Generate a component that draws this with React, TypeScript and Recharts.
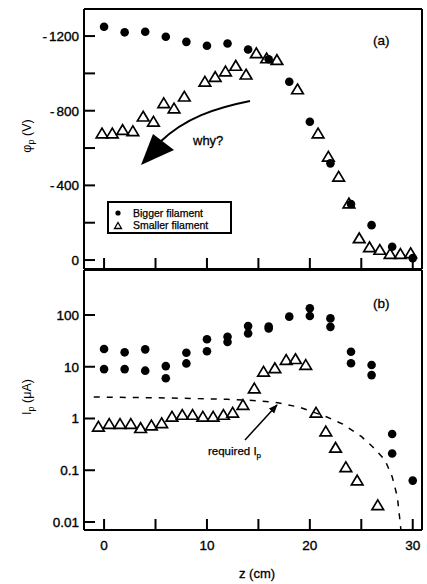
import React from 'react';
import { ScatterChart, Scatter, XAxis, YAxis } from 'recharts';

// ---------- data ----------
const zTicks = [0, 5, 10, 15, 20, 25, 30];
const zLabelValues = [0, 10, 20, 30];
const phiTicks = [-1200, -1000, -800, -600, -400, -200, 0];
const phiLabelValues = [-1200, -800, -400, 0];
const ipTicks = [0.01, 0.1, 1, 10, 100];
const ipTickLabels = ['0.01', '0.1', '1', '10', '100'];

// (a) plasma potential, bigger filament
const bigPhiZ = [0, 2, 4, 6, 8, 10, 12, 14, 16, 18, 20, 22, 24, 26, 28, 30];
const bigPhiV = [-1250, -1220, -1223, -1196, -1169, -1148, -1160, -1128, -1076, -955, -741, -518, -300, -187, -71, -10];

// (a) plasma potential, smaller filament
const smallPhiZ = [-0.2, 0.8, 1.8, 2.8, 3.8, 4.8, 5.8, 6.8, 7.8, 9.8, 10.8, 11.8, 12.8, 13.8, 14.8, 15.8, 16.8, 18.8, 20.8, 21.8, 22.8, 23.8, 24.8, 25.8, 26.8, 27.8, 28.8, 29.8];
const smallPhiV = [-678, -678, -696, -690, -768, -741, -840, -812, -875, -955, -980, -1010, -1040, -993, -1107, -1080, -1071, -914, -678, -553, -446, -303, -116, -68, -54, -32, -32, -36];

// (b) current, bigger filament
const bigIpZ = [0, 0, 2, 2, 4, 4, 6, 6, 8, 8, 10, 10, 12, 12, 14, 14, 16, 16, 18, 20, 20, 22, 22, 24, 24, 26, 26, 28, 28, 30];
const bigIpA = [22, 9, 19, 9, 21.7, 8.4, 10.3, 6, 18.7, 11.6, 34, 20, 38, 30, 61, 44, 60, 55, 93, 135, 96, 86, 59, 19.5, 11.7, 10.8, 6.9, 0.5, 0.21, 0.063];

// (b) current, smaller filament
const smallIpZ = [-0.55, 0.5, 1.55, 2.6, 3.55, 4.6, 5.6, 6.6, 7.6, 8.6, 9.6, 10.6, 11.6, 12.5, 13.5, 14.6, 15.5, 16.6, 17.7, 18.6, 19.6, 20.6, 21.55, 22.5, 23.5, 24.6, 26.6];
const smallIpA = [0.69, 0.78, 0.78, 0.78, 0.65, 0.73, 0.81, 1.08, 1.17, 1.17, 1.08, 1.08, 1.17, 1.29, 1.82, 3.8, 8.0, 9.3, 13.5, 14, 10.8, 1.29, 0.56, 0.27, 0.114, 0.063, 0.021];

// (b) required Ip (dashed curve)
const reqZ = [-1, 6, 12, 15, 17, 19, 21.6, 23.2, 25, 26.1, 27.3, 28, 28.5, 28.75, 28.85];
const reqA = [2.6, 2.5, 2.35, 2.2, 2.0, 1.65, 1.08, 0.78, 0.45, 0.285, 0.158, 0.075, 0.031, 0.011, 0.007];

const legendNames = ['Bigger filament', 'Smaller filament'];

const zip = (xs: number[], ys: number[]) => xs.map((x, i) => ({ x, y: ys[i] }));
const bigPhi = zip(bigPhiZ, bigPhiV);
const smallPhi = zip(smallPhiZ, smallPhiV);
const bigIp = zip(bigIpZ, bigIpA);
const smallIp = zip(smallIpZ, smallIpA);
const reqIp = zip(reqZ, reqA);

// ---------- styling ----------
const FONT = '"Liberation Sans", Arial, Helvetica, sans-serif';
const TL = 11;
const W = 427;
const H = 584;
const Z_DOMAIN: [number, number] = [-1.95, 30.9];
const PHI_DOMAIN: [number, number] = [-1345, 48];
const IP_DOMAIN: [number, number] = [0.007, 741];
const TICK_FS = 13.5;

const CircleShape = (p: any) => <circle cx={p.cx} cy={p.cy} r={4.3} fill="#000" />;
const TriShape = (p: any) => (
  <path
    d={`M${p.cx},${p.cy - 5.4} L${p.cx + 5.8},${p.cy + 4.3} L${p.cx - 5.8},${p.cy + 4.3} Z`}
    fill="none"
    stroke="#000"
    strokeWidth={1.7}
  />
);
const NoShape = () => <g />;

const textProps = { fontFamily: FONT, fontSize: TICK_FS, fill: '#000', stroke: '#000', strokeWidth: 0.35 };

const signedLabel = (x: number, y: number, v: number, anchor: 'end' | 'middle', text: string) => {
  if (v < 0) {
    return (
      <text x={x} y={y} textAnchor={anchor} {...textProps}>
        <tspan>-</tspan>
        <tspan dx={2}>{String(Math.abs(v))}</tspan>
      </text>
    );
  }
  return (
    <text x={x} y={y} textAnchor={anchor} {...textProps}>
      {text}
    </text>
  );
};

const AxisTick = (props: any) => {
  const { x, y, payload, side, labelFor } = props;
  const v = payload.value;
  let line;
  if (side === 'bottom') line = <line x1={x} y1={y} x2={x} y2={y - TL} stroke="#000" strokeWidth={2} />;
  else if (side === 'top') line = <line x1={x} y1={y} x2={x} y2={y + TL} stroke="#000" strokeWidth={2} />;
  else if (side === 'left') line = <line x1={x} y1={y} x2={x + TL} y2={y} stroke="#000" strokeWidth={2} />;
  else line = <line x1={x} y1={y} x2={x - TL} y2={y} stroke="#000" strokeWidth={2} />;
  const lab = labelFor ? labelFor(v) : null;
  let label = null;
  if (lab !== null && lab !== undefined) {
    if (side === 'bottom') label = signedLabel(x, y + 19.5, v, 'middle', lab);
    if (side === 'left') label = signedLabel(x - 5, y + 5, v, 'end', lab);
  }
  return (
    <g>
      {line}
      {label}
    </g>
  );
};

const phiLabelFn = (v: number) => (phiLabelValues.includes(v) ? String(v) : null);
const zLabelFn = (v: number) => (zLabelValues.includes(v) ? String(v) : null);
const ipLabelFn = (v: number) => {
  const i = ipTicks.findIndex((t) => Math.abs(t - v) / t < 1e-6);
  return i >= 0 ? ipTickLabels[i] : null;
};

const axisLine = { stroke: '#000', strokeWidth: 2 };

export default function App() {
  return (
    <div style={{ position: 'absolute', left: 0, top: 0, width: W, height: H, background: '#fff' }}>
      {/* (a) potential panel */}
      <div style={{ position: 'absolute', left: 0, top: 0 }}>
        <ScatterChart width={W} height={H} margin={{ top: 8, right: 4, bottom: H - 269 - 1, left: 0 }}>
          <XAxis xAxisId="b" type="number" dataKey="x" orientation="bottom" height={1} domain={Z_DOMAIN}
            ticks={zTicks} interval={0} tickSize={0} tickMargin={0} axisLine={axisLine}
            tick={<AxisTick side="bottom" />} />
          <XAxis xAxisId="t" type="number" dataKey="x" orientation="top" height={1} domain={Z_DOMAIN}
            ticks={zTicks} interval={0} tickSize={0} tickMargin={0} axisLine={axisLine}
            tick={<AxisTick side="top" />} />
          <YAxis yAxisId="l" type="number" dataKey="y" orientation="left" width={84} reversed domain={PHI_DOMAIN}
            ticks={phiTicks} interval={0} tickSize={0} tickMargin={0} axisLine={axisLine}
            tick={<AxisTick side="left" labelFor={phiLabelFn} />} />
          <YAxis yAxisId="r" type="number" dataKey="y" orientation="right" width={1} reversed domain={PHI_DOMAIN}
            ticks={phiTicks} interval={0} tickSize={0} tickMargin={0} axisLine={axisLine}
            tick={<AxisTick side="right" />} />
          <Scatter name={legendNames[1]} data={smallPhi} xAxisId="b" yAxisId="l" shape={TriShape} isAnimationActive={false} />
          <Scatter name={legendNames[0]} data={bigPhi} xAxisId="b" yAxisId="l" shape={CircleShape} isAnimationActive={false} />
        </ScatterChart>
      </div>

      {/* (b) current panel */}
      <div style={{ position: 'absolute', left: 0, top: 0 }}>
        <ScatterChart width={W} height={H} margin={{ top: 269, right: 4, bottom: H - 530 - 1, left: 0 }}>
          <XAxis xAxisId="b" type="number" dataKey="x" orientation="bottom" height={1} domain={Z_DOMAIN}
            ticks={zTicks} interval={0} tickSize={0} tickMargin={0} axisLine={axisLine}
            tick={<AxisTick side="bottom" labelFor={zLabelFn} />} />
          <XAxis xAxisId="t" type="number" dataKey="x" orientation="top" height={1} domain={Z_DOMAIN}
            ticks={zTicks} interval={0} tickSize={0} tickMargin={0} axisLine={axisLine}
            tick={<AxisTick side="top" />} />
          <YAxis yAxisId="l" type="number" dataKey="y" orientation="left" width={84} scale="log" domain={IP_DOMAIN}
            ticks={ipTicks} interval={0} tickSize={0} tickMargin={0} axisLine={axisLine}
            tick={<AxisTick side="left" labelFor={ipLabelFn} />} />
          <YAxis yAxisId="r" type="number" dataKey="y" orientation="right" width={1} scale="log" domain={IP_DOMAIN}
            ticks={ipTicks} interval={0} tickSize={0} tickMargin={0} axisLine={axisLine}
            tick={<AxisTick side="right" />} />
          <Scatter
            name="required Ip"
            data={reqIp}
            xAxisId="b"
            yAxisId="l"
            line={{ stroke: '#000', strokeWidth: 1.5, strokeDasharray: '6 7' }}
            lineType="joint"
            shape={NoShape}
            isAnimationActive={false}
          />
          <Scatter name={legendNames[1]} data={smallIp} xAxisId="b" yAxisId="l" shape={TriShape} isAnimationActive={false} />
          <Scatter name={legendNames[0]} data={bigIp} xAxisId="b" yAxisId="l" shape={CircleShape} isAnimationActive={false} />
        </ScatterChart>
      </div>

      {/* annotations, legend, axis titles */}
      <svg
        width={W}
        height={H}
        style={{ position: 'absolute', left: 0, top: 0, pointerEvents: 'none' }}
        fontFamily={FONT}
      >
        <defs>
          <marker id="ah" viewBox="0 0 10 10" refX="9" refY="5" markerWidth="6" markerHeight="6" orient="auto-start-reverse">
            <path d="M0,1 L10,5 L0,9 Z" fill="#000" />
          </marker>
        </defs>

        {/* panel tags */}
        <text x={373} y={45} fontSize={13.5} fill="#000" stroke="#000" strokeWidth={0.3}>(a)</text>
        <text x={373} y={308} fontSize={13.5} fill="#000" stroke="#000" strokeWidth={0.3}>(b)</text>

        {/* why? arrow */}
        <path d="M250,101 C215,108 185,118 160,142" fill="none" stroke="#000" strokeWidth={2} />
        <path d="M141,165 L153,134 L174,150 Z" fill="#000" />
        <text x={193} y={145} fontSize={13} fill="#000" stroke="#000" strokeWidth={0.3}>why?</text>

        {/* required Ip annotation */}
        <line x1={245} y1={440} x2={277} y2={405} stroke="#000" strokeWidth={1.5} markerEnd="url(#ah)" />
        <text x={208} y={455} fontSize={11.5} fill="#000" stroke="#000" strokeWidth={0.25}>
          required I<tspan fontSize={8} dy={3}>p</tspan>
        </text>

        {/* legend */}
        <rect x={108} y={202} width={123} height={31} fill="#fff" stroke="#000" strokeWidth={2} />
        <circle cx={118} cy={213} r={2.6} fill="#000" />
        <text x={133} y={217} fontSize={10.5} fill="#000" stroke="#000" strokeWidth={0.25}>{legendNames[0]}</text>
        <path d="M118,222.5 L121.5,228.5 L114.5,228.5 Z" fill="none" stroke="#000" strokeWidth={1.3} />
        <text x={133} y={229} fontSize={10.5} fill="#000" stroke="#000" strokeWidth={0.25}>{legendNames[1]}</text>

        {/* axis titles */}
        <text transform="translate(31,136) rotate(-90)" textAnchor="middle" fontSize={12.5} fill="#000">
          φ<tspan fontSize={9} dy={3}>p</tspan>
          <tspan dy={-3}> (V)</tspan>
        </text>
        <text transform="translate(31,397) rotate(-90)" textAnchor="middle" fontSize={12.5} fill="#000">
          I<tspan fontSize={9} dy={3}>p</tspan>
          <tspan dy={-3}> (μA)</tspan>
        </text>
        <text x={257} y={578} textAnchor="middle" fontSize={13} fill="#000" stroke="#000" strokeWidth={0.3}>z (cm)</text>
      </svg>
    </div>
  );
}
